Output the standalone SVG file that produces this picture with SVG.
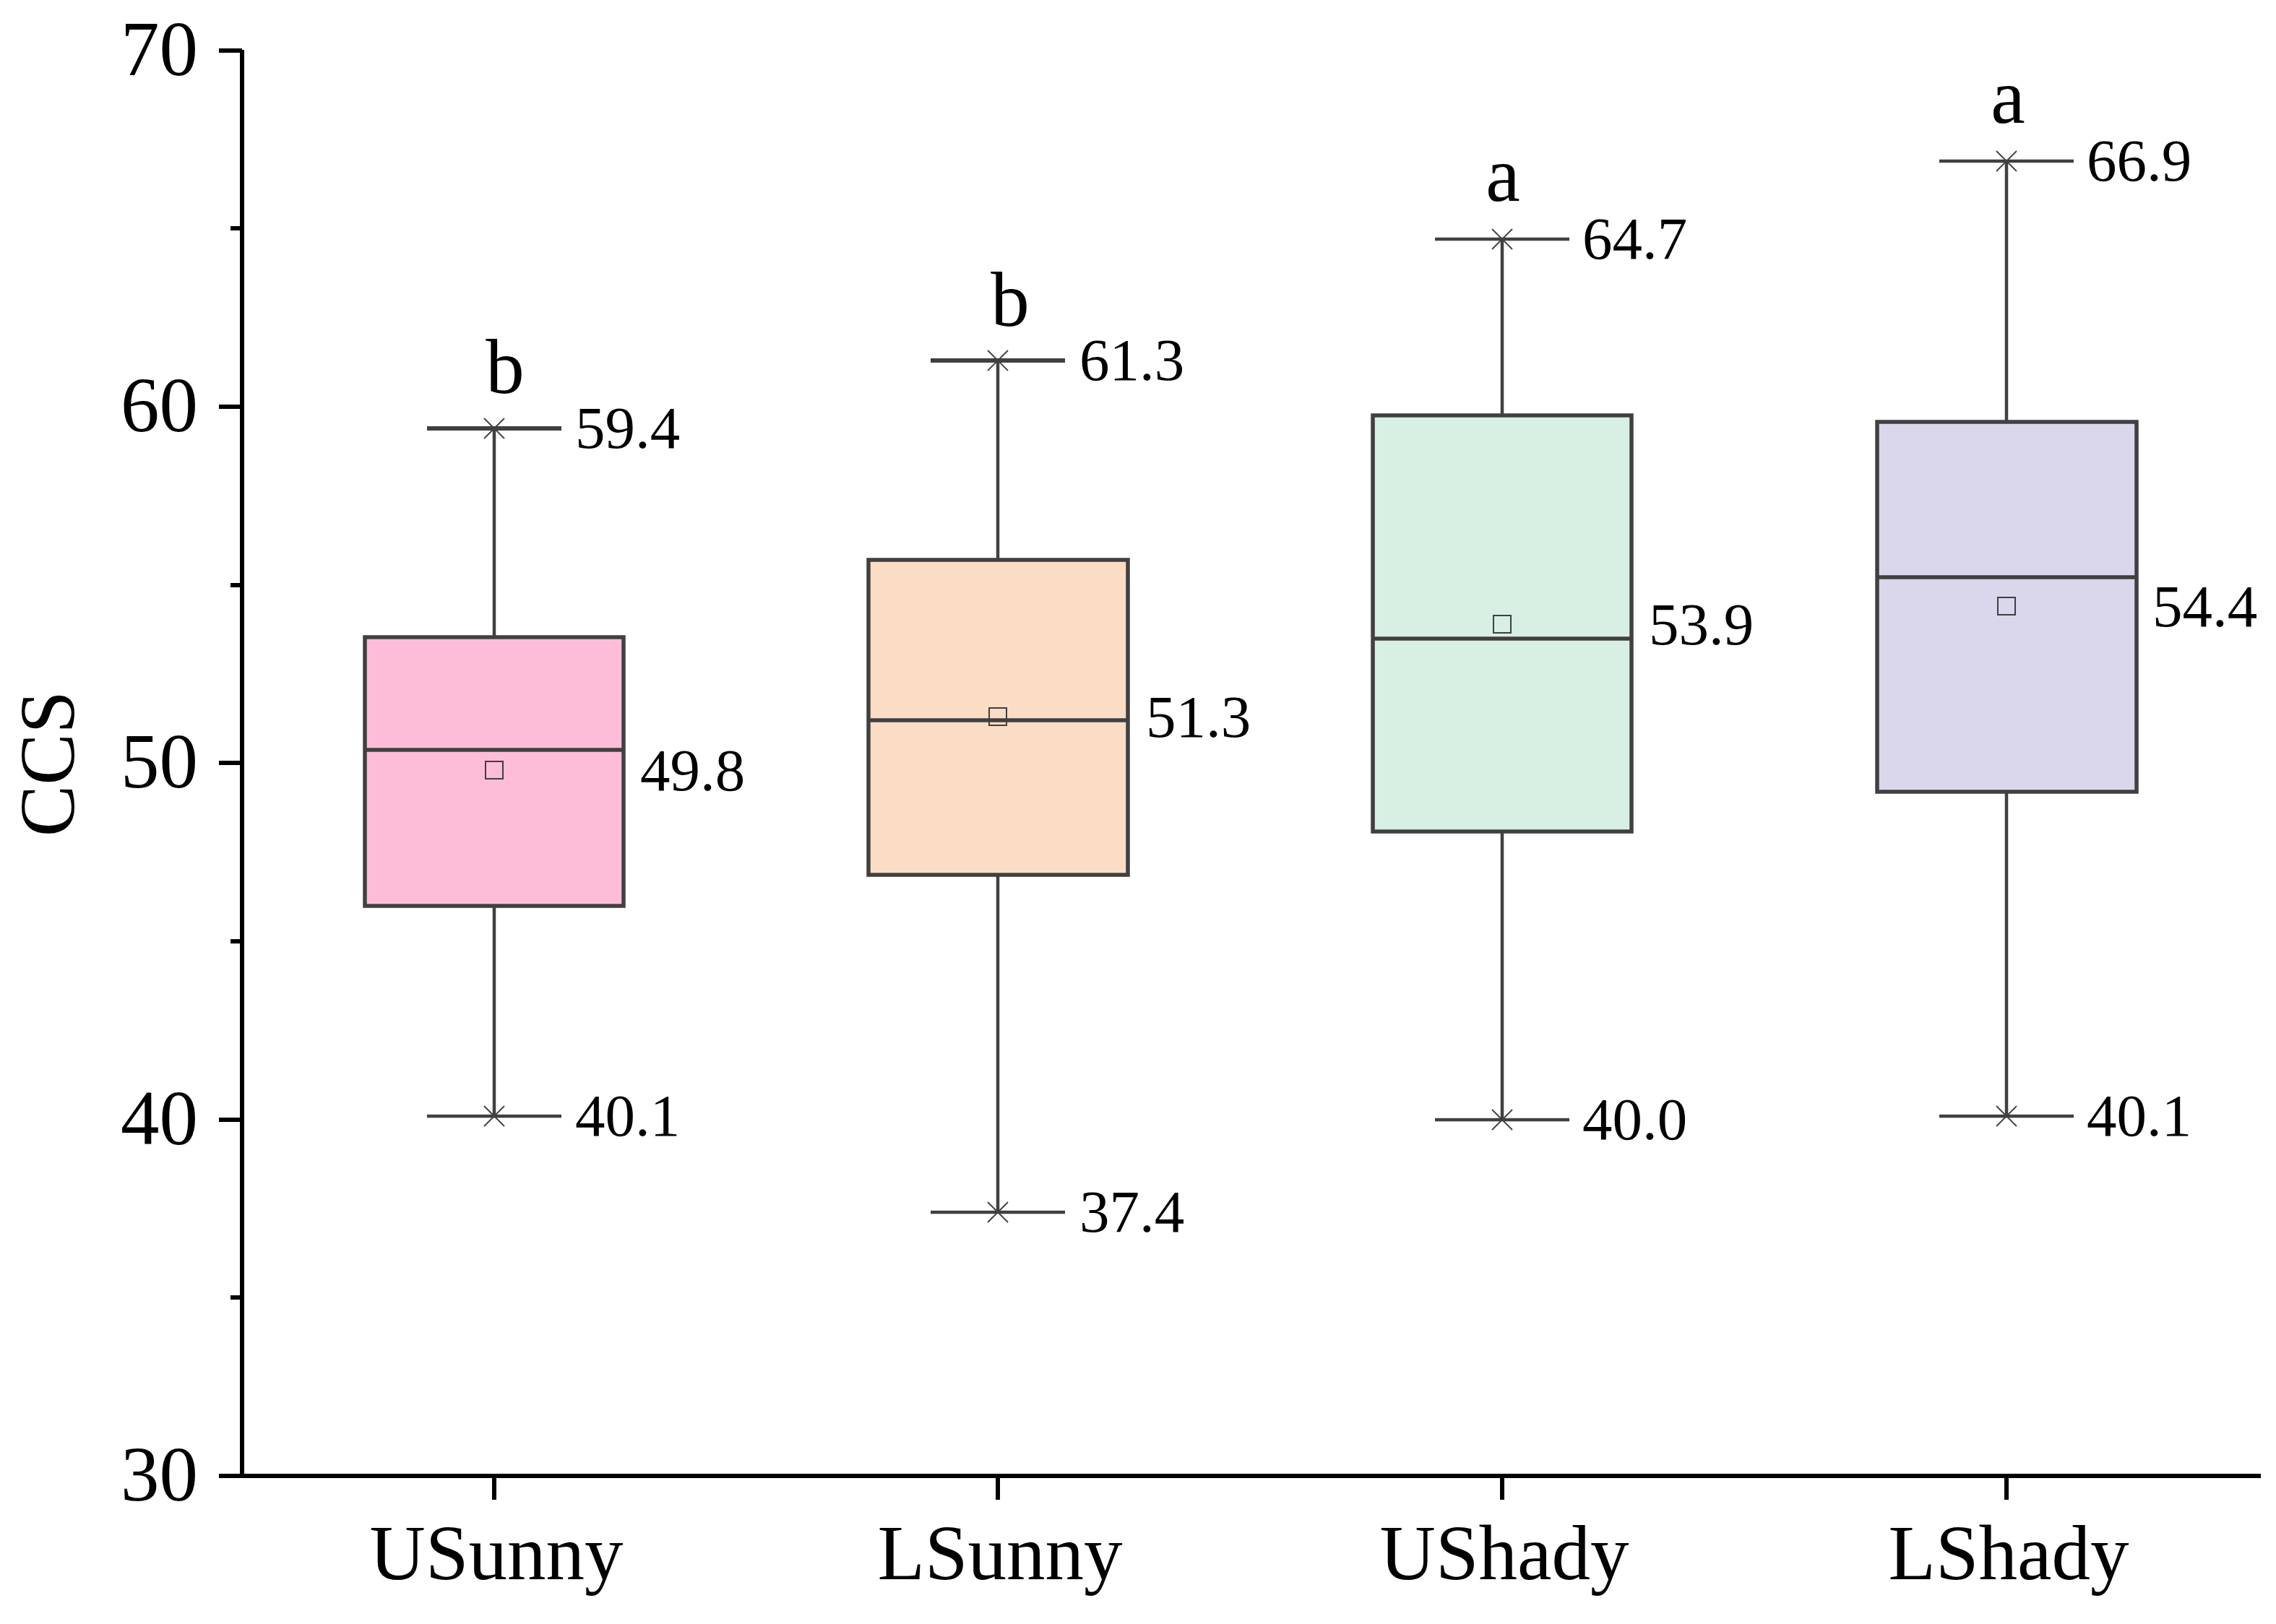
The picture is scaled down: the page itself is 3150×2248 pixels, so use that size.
<svg xmlns="http://www.w3.org/2000/svg" width="3150" height="2248" viewBox="0 0 3150 2248">
<style>
  text { font-family: "Liberation Serif", "Times New Roman", serif; fill: #000; }
  .tick { font-size: 107px; }
  .val { font-size: 83px; }
  .sig { font-size: 107px; text-anchor: middle; }
  .cat { font-size: 107px; text-anchor: middle; }
  .axis { stroke: #000; stroke-width: 6; fill: none; }
  .box { stroke: #404040; stroke-width: 5.5; }
  .med { stroke: #404040; stroke-width: 5.5; }
  .wh { stroke: #404040; stroke-width: 4.5; fill: none; }
  .capT { stroke: #404040; stroke-width: 6; }
  .cap { stroke: #404040; stroke-width: 4.5; }
  .mk { stroke: #404040; stroke-width: 1.8; fill: none; }
  .mean { stroke: #404040; stroke-width: 2; fill: none; }
</style>
<rect width="3150" height="2248" fill="#fff"/>

<g id="axes">
  <path class="axis" d="M335,69 V2043 H3129"/>
  <path class="axis" d="M303,70 H335 M303,563 H335 M303,1056 H335 M303,1550 H335 M303,2043 H335"/>
  <path class="axis" d="M319,316 H335 M319,810 H335 M319,1303 H335 M319,1796 H335"/>
  <path class="axis" d="M684,2043 V2076 M1381,2043 V2076 M2079,2043 V2076 M2777,2043 V2076"/>
  <g class="tick" text-anchor="end">
    <text x="274" y="104">70</text>
    <text x="274" y="597">60</text>
    <text x="274" y="1090">50</text>
    <text x="274" y="1584">40</text>
    <text x="274" y="2077">30</text>
  </g>
  <text class="tick" text-anchor="middle" transform="translate(102,1057) rotate(-90)">CCS</text>
  <text class="cat" x="687" y="2186">USunny</text>
  <text class="cat" x="1384" y="2186">LSunny</text>
  <text class="cat" x="2082" y="2186">UShady</text>
  <text class="cat" x="2780" y="2186">LShady</text>
</g>

<g id="box-usunny">
  <path class="wh" d="M684,593 V880 M684,1256 V1545"/>
  <line class="capT" x1="591" y1="593" x2="777" y2="593"/>
  <line class="cap" x1="591" y1="1545" x2="777" y2="1545"/>
  <path class="mk" d="M670,579 L698,607 M698,579 L670,607 M670,1531 L698,1559 M698,1531 L670,1559"/>
  <rect class="box" x="505" y="882" width="358" height="372" fill="#FDBDD9"/>
  <line class="med" x1="505" y1="1038" x2="863" y2="1038"/>
  <rect class="mean" x="672" y="1054" width="24" height="24"/>
  <text class="sig" x="699" y="544">b</text>
  <text class="val" x="796" y="620">59.4</text>
  <text class="val" x="886" y="1094">49.8</text>
  <text class="val" x="796" y="1572">40.1</text>
</g>

<g id="box-lsunny">
  <path class="wh" d="M1381,499 V773 M1381,1213 V1678"/>
  <line class="capT" x1="1288" y1="499" x2="1474" y2="499"/>
  <line class="cap" x1="1288" y1="1678" x2="1474" y2="1678"/>
  <path class="mk" d="M1367,485 L1395,513 M1395,485 L1367,513 M1367,1664 L1395,1692 M1395,1664 L1367,1692"/>
  <rect class="box" x="1202" y="775" width="359" height="436" fill="#FBDCC5"/>
  <line class="med" x1="1202" y1="997" x2="1561" y2="997"/>
  <rect class="mean" x="1369" y="980" width="24" height="24"/>
  <text class="sig" x="1398" y="451">b</text>
  <text class="val" x="1494" y="526">61.3</text>
  <text class="val" x="1586" y="1020">51.3</text>
  <text class="val" x="1494" y="1705">37.4</text>
</g>

<g id="box-ushady">
  <path class="wh" d="M2079,331 V573 M2079,1153 V1550"/>
  <line class="cap" x1="1986" y1="331" x2="2172" y2="331"/>
  <line class="cap" x1="1986" y1="1550" x2="2172" y2="1550"/>
  <path class="mk" d="M2065,317 L2093,345 M2093,317 L2065,345 M2065,1536 L2093,1564 M2093,1536 L2065,1564"/>
  <rect class="box" x="1900" y="575" width="358" height="576" fill="#D8F0E4"/>
  <line class="med" x1="1900" y1="884" x2="2258" y2="884"/>
  <rect class="mean" x="2067" y="852" width="24" height="24"/>
  <text class="sig" x="2080" y="278">a</text>
  <text class="val" x="2190" y="358">64.7</text>
  <text class="val" x="2282" y="892">53.9</text>
  <text class="val" x="2190" y="1577">40.0</text>
</g>

<g id="box-lshady">
  <path class="wh" d="M2777,223 V582 M2777,1098 V1545"/>
  <line class="cap" x1="2684" y1="223" x2="2870" y2="223"/>
  <line class="cap" x1="2684" y1="1545" x2="2870" y2="1545"/>
  <path class="mk" d="M2763,209 L2791,237 M2791,209 L2763,237 M2763,1531 L2791,1559 M2791,1531 L2763,1559"/>
  <rect class="box" x="2598" y="584" width="359" height="512" fill="#DAD7EC"/>
  <line class="med" x1="2598" y1="799" x2="2957" y2="799"/>
  <rect class="mean" x="2765" y="827" width="24" height="24"/>
  <text class="sig" x="2779" y="170">a</text>
  <text class="val" x="2888" y="250">66.9</text>
  <text class="val" x="2979" y="867">54.4</text>
  <text class="val" x="2888" y="1572">40.1</text>
</g>
</svg>
